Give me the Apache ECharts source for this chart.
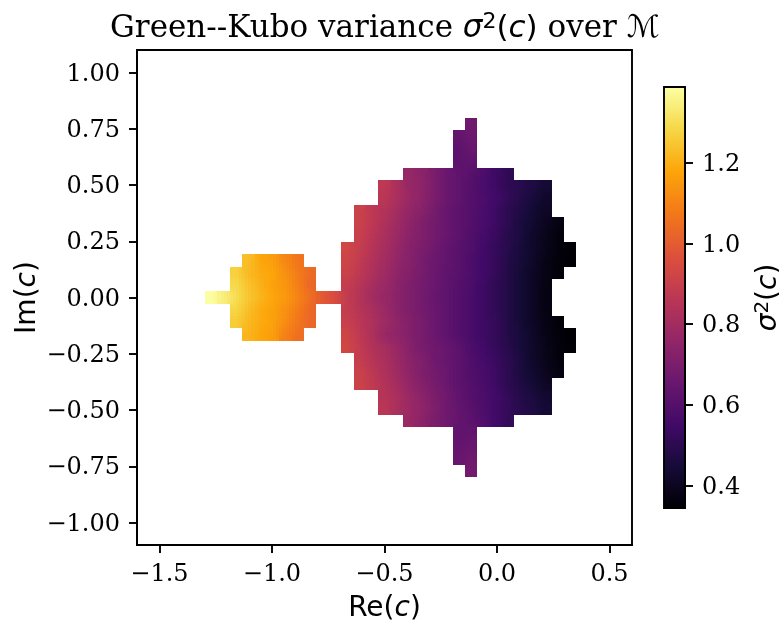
<!DOCTYPE html>
<html><head><meta charset="utf-8">
<style>html,body{margin:0;padding:0;background:#fff}#c{width:779px;height:620px}</style>
<script src="https://cdn.jsdelivr.net/npm/echarts@6/dist/echarts.min.js"></script>
</head><body><div id="c"></div>
<script>
// Cell grid of the picture: column i has Re(c) = reFirst + i*cellStep, row k has Im(c) = k*cellStep
const reFirst = -1.27, cellStep = 0.055;
const reTicks = [-1.5, -1.0, -0.5, 0.0, 0.5];
const imTicks = [-1.0, -0.75, -0.5, -0.25, 0.0, 0.25, 0.5, 0.75, 1.0];
const barTicks = [0.4, 0.6, 0.8, 1.0, 1.2];
const vMin = 0.345, vMax = 1.387;
const inferno = ['#000004','#160b39','#420a68','#6a176e','#932667','#bc3754','#dd513a','#f37819','#fca50a','#f6d746','#fcffa4'];

// Each row: {first column index: values, ...}
const rowP14 = {21:[.67]};
const rowP13 = {20:[.64,.66]};
const rowP12 = {20:[.62,.65]};
const rowP11 = {20:[.62,.63]};
const rowP10 = {16:[.77,.74,.70,.66,.63,.61,.58,.54,.51]};
const rowP9  = {14:[.87,.82,.77,.75,.70,.66,.63,.60,.57,.54,.51,.49,.47,.44]};
const rowP8  = {14:[.86,.82,.78,.74,.70,.66,.63,.60,.58,.55,.52,.48,.45,.42]};
const rowP7  = {12:[.91,.87,.84,.80,.76,.73,.69,.65,.62,.60,.57,.54,.50,.47,.44,.41]};
const rowP6  = {12:[.91,.87,.83,.79,.75,.71,.68,.65,.62,.60,.57,.54,.50,.46,.43,.40,.37]};
const rowP5  = {12:[.90,.86,.82,.78,.74,.71,.68,.65,.62,.59,.56,.53,.49,.46,.42,.39,.36]};
const rowP4  = {11:[.93,.89,.85,.81,.77,.73,.70,.67,.64,.61,.59,.55,.52,.49,.45,.42,.39,.36,.35]};
const rowP3  = {3:[1.23,1.18,1.16,1.105,1.065], 11:[.92,.88,.84,.80,.76,.73,.69,.66,.64,.61,.58,.55,.52,.48,.45,.42,.38,.36,.347]};
const rowP2  = {2:[1.27,1.22,1.19,1.18,1.13,1.08,1.04], 11:[.91,.87,.83,.79,.75,.72,.69,.66,.63,.61,.58,.55,.52,.48,.44,.41,.38,.355]};
const rowP1  = {2:[1.29,1.24,1.20,1.17,1.14,1.09,1.03], 11:[.89,.85,.81,.78,.74,.71,.68,.66,.63,.60,.58,.54,.51,.48,.44,.41,.37]};
const row0   = {0:[1.385,1.34,1.30,1.25,1.21,1.18,1.15,1.10,1.05,.99,.95,.885,.84,.80,.77,.74,.71,.68,.65,.63,.60,.57,.54,.51,.48,.44,.41,.37]};
const rowM1  = {2:[1.28,1.23,1.19,1.17,1.13,1.08,1.03], 11:[.89,.85,.82,.78,.74,.71,.68,.66,.63,.60,.57,.54,.51,.48,.44,.41,.37]};
const rowM2  = {2:[1.26,1.22,1.19,1.17,1.12,1.07,1.03], 11:[.90,.86,.83,.79,.75,.72,.69,.66,.63,.60,.57,.54,.52,.48,.44,.41,.38,.355]};
const rowM3  = {3:[1.21,1.18,1.16,1.09,1.05], 11:[.92,.87,.83,.77,.75,.72,.69,.66,.63,.60,.57,.54,.52,.48,.45,.42,.38,.36,.347]};
const rowM4  = {11:[.93,.88,.84,.81,.77,.73,.69,.67,.65,.62,.58,.55,.52,.49,.45,.42,.39,.36,.35]};
const rowM5  = {12:[.89,.85,.82,.78,.74,.71,.67,.65,.62,.59,.56,.53,.50,.46,.42,.39,.36]};
const rowM6  = {12:[.91,.87,.83,.79,.75,.71,.68,.66,.62,.59,.57,.54,.50,.46,.43,.40,.37]};
const rowM7  = {12:[.91,.88,.84,.80,.76,.72,.69,.66,.62,.60,.57,.54,.50,.47,.44,.41]};
const rowM8  = {14:[.85,.82,.78,.74,.70,.67,.63,.60,.58,.55,.52,.48,.46,.43]};
const rowM9  = {14:[.86,.82,.78,.75,.71,.67,.64,.61,.58,.55,.52,.49,.47,.44]};
const rowM10 = {16:[.78,.74,.70,.67,.64,.62,.59,.55,.52]};
const rowM11 = {20:[.63,.64]};
const rowM12 = {20:[.64,.65]};
const rowM13 = {20:[.65,.67]};
const rowM14 = {21:[.68]};

const rows = [
  [14,rowP14],[13,rowP13],[12,rowP12],[11,rowP11],[10,rowP10],[9,rowP9],[8,rowP8],[7,rowP7],[6,rowP6],[5,rowP5],
  [4,rowP4],[3,rowP3],[2,rowP2],[1,rowP1],[0,row0],[-1,rowM1],[-2,rowM2],[-3,rowM3],[-4,rowM4],[-5,rowM5],
  [-6,rowM6],[-7,rowM7],[-8,rowM8],[-9,rowM9],[-10,rowM10],[-11,rowM11],[-12,rowM12],[-13,rowM13],[-14,rowM14]
];

const lookup = new Map(), cells = [];
rows.forEach(([k, segs]) => {
  Object.keys(segs).forEach(s => segs[s].forEach((v, n) => {
    const i = +s + n;
    lookup.set(i + ':' + k, v);
    cells.push([reFirst + i * cellStep, k * cellStep, v, i, k]);
  }));
});

// colour of a point inside a cell: bilinear between neighbouring cell values, like imshow(interpolation="bilinear")
function shade(i, k, fx, fy) {
  const me = lookup.get(i + ':' + k);
  const di = fx < 0 ? -1 : 1, dk = fy < 0 ? -1 : 1;
  const g = (a, b) => { const v = lookup.get((i + a) + ':' + (k + b)); return v === undefined ? me : v; };
  const ax = Math.abs(fx), ay = Math.abs(fy);
  const v = (1-ax)*(1-ay)*me + ax*(1-ay)*g(di,0) + (1-ax)*ay*g(0,dk) + ax*ay*g(di,dk);
  return echarts.color.lerp(Math.min(1, Math.max(0, (v - vMin) / (vMax - vMin))), inferno);
}
const SUB = 4;
function renderCell(params, api) {
  const i = api.value(3), k = api.value(4);
  const p0 = api.coord([api.value(0) - cellStep/2, api.value(1) + cellStep/2]);
  const p1 = api.coord([api.value(0) + cellStep/2, api.value(1) - cellStep/2]);
  const w = p1[0] - p0[0], h = p1[1] - p0[1];
  const kids = [];
  for (let a = 0; a < SUB; a++) for (let b = 0; b < SUB; b++) {
    const x0 = Math.round(p0[0] + w * a / SUB), x1 = Math.round(p0[0] + w * (a + 1) / SUB);
    const y0 = Math.round(p0[1] + h * b / SUB), y1 = Math.round(p0[1] + h * (b + 1) / SUB);
    const fx = (a + .5) / SUB - .5, fy = .5 - (b + .5) / SUB;
    kids.push({type:'rect', shape:{x:x0, y:y0, width:x1-x0, height:y1-y0}, style:{fill:shade(i, k, fx, fy)}});
  }
  return {type:'group', children:kids};
}

const serif = '"DejaVu Serif"', sans = '"DejaVu Sans"';
const mathRich = (size) => ({
  m:{fontFamily:sans, fontStyle:'italic', fontSize:size, color:'#000'},
  r:{fontFamily:sans, fontSize:size, color:'#000'},
  s:{fontFamily:serif, fontSize:size, color:'#000'},
  u:{fontFamily:sans, fontSize:Math.round(size*.7), color:'#000', padding:[0,0,Math.round(size*.42),0]}
});
const axisBase = {
  axisLine:{show:true, onZero:false, lineStyle:{color:'#000', width:1.9}},
  axisTick:{show:true, length:8, lineStyle:{color:'#000', width:1.9}},
  splitLine:{show:false}
};
const fmt = d => v => (v < 0 ? '\u2212' : '') + Math.abs(v).toFixed(d);
const fmtY = d => v => '{t|' + fmt(d)(v) + '}';
const tickText = {fontFamily:serif, fontSize:24, color:'#000', margin:17};
const tickRich = {t:{fontFamily:serif, fontSize:24, color:'#000', padding:[4,0,0,0]}};

const chart = echarts.init(document.getElementById('c'), null, {renderer:'canvas'});
chart.setOption({
  animation:false,
  backgroundColor:'#fff',
  title:{
    text:'{s|Green--Kubo variance }{m|σ}{u|2}{r|(}{m|c}{r|)}{s| over }{m|ℳ}',
    left:380, top:6, textAlign:'center',
    textStyle:{rich:mathRich(31), fontSize:31, fontFamily:serif, fontWeight:'normal'}
  },
  grid:[
    {left:137, top:50, width:495, height:495, outerBoundsMode:'none', show:true, borderColor:'#000', borderWidth:1.9, backgroundColor:'transparent', z:3},
    {left:664, top:87, width:21, height:421, outerBoundsMode:'none', show:true, borderColor:'#000', borderWidth:1.9, backgroundColor:'transparent', z:10}
  ],
  xAxis:[
    Object.assign({}, axisBase, {
      gridIndex:0, type:'value', min:-1.6, max:0.6, position:'bottom',
      axisTick:Object.assign({}, axisBase.axisTick, {customValues:reTicks}),
      axisLabel:Object.assign({customValues:reTicks, formatter:fmt(1)}, tickText, {margin:18}),
      name:'{r|Re(}{m|c}{r|)}', nameLocation:'middle', nameGap:50, nameMoveOverlap:false,
      nameTextStyle:{rich:mathRich(28)}
    }),
    {gridIndex:1, type:'value', min:0, max:1, show:false}
  ],
  yAxis:[
    Object.assign({}, axisBase, {
      gridIndex:0, type:'value', min:-1.1, max:1.1, position:'left',
      axisTick:Object.assign({}, axisBase.axisTick, {customValues:imTicks}),
      axisLabel:Object.assign({customValues:imTicks, formatter:fmtY(2), rich:tickRich}, tickText),
      name:'{r|Im(}{m|c}{r|)}', nameLocation:'middle', nameGap:95, nameRotate:90, nameMoveOverlap:false,
      nameTextStyle:{rich:mathRich(28)}
    }),
    Object.assign({}, axisBase, {
      gridIndex:1, type:'value', min:vMin, max:vMax, position:'right',
      axisTick:Object.assign({}, axisBase.axisTick, {customValues:barTicks}),
      axisLabel:Object.assign({customValues:barTicks, formatter:fmtY(1), rich:tickRich}, tickText),
      name:'{m|σ}{u|2}{r|(}{m|c}{r|)}', nameLocation:'middle', nameGap:68, nameRotate:90, nameMoveOverlap:false,
      nameTextStyle:{rich:mathRich(28)}
    })
  ],
  visualMap:{
    type:'continuous', min:vMin, max:vMax, dimension:2, seriesIndex:0,
    left:664, top:87, itemWidth:21, itemHeight:421, padding:0, text:null, showLabel:false,
    calculable:false, hoverLink:false, realtime:false, orient:'vertical',
    inRange:{color:inferno}, textStyle:{fontSize:0}, z:4
  },
  series:[{
    type:'custom', coordinateSystem:'cartesian2d', xAxisIndex:0, yAxisIndex:0,
    data:cells, encode:{x:0, y:1, tooltip:2}, renderItem:renderCell, silent:true, clip:true, z:1
  }]
});
</script></body></html>
